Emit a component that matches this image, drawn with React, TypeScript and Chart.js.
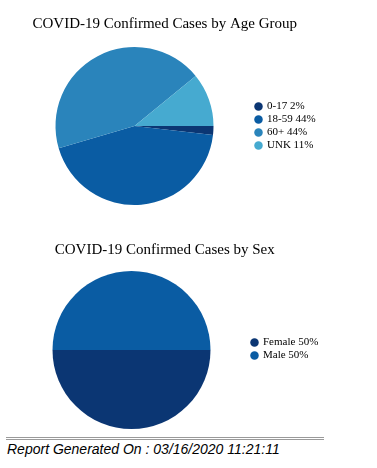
import React, { useEffect, useRef } from "react";
import { Chart, registerables } from "chart.js";

Chart.register(...registerables);

const ageLabels = ["0-17", "18-59", "60+", "UNK"];
const ageValues = [1, 24, 24, 6];
const ageColors = ["#0b3673", "#0a5ca3", "#2a84bb", "#46aad0"];

const sexLabels = ["Female", "Male"];
const sexValues = [1, 1];
const sexColors = ["#0b3673", "#0a5ca3"];

const ageTitle = "COVID-19 Confirmed Cases by Age Group";
const sexTitle = "COVID-19 Confirmed Cases by Sex";
const footerText = "Report Generated On : 03/16/2020 11:21:11";

type PieSpec = {
  labels: string[];
  values: number[];
  colors: string[];
  title: string;
  titlePadTop: number;
  titlePadBottom: number;
  padLeft: number;
  padRight: number;
  padBottom: number;
  legendMaxWidth: number;
  legendTopSpace: number;
};

const serif = "'Liberation Serif', 'Times New Roman', serif";

// The legend box is kept narrow for layout; widen its drawing clip so labels are not cut.
const legendClipFix = {
  id: "legendClipFix",
  afterLayout(chart: any) {
    const lg = chart.legend;
    if (lg) {
      lg.right = lg.left + 120;
      lg.width = 120;
    }
  },
};

function makeConfig(s: PieSpec): any {
  const total = s.values.reduce((a, b) => a + b, 0);
  return {
    type: "pie",
    data: {
      labels: s.labels,
      datasets: [
        {
          data: s.values,
          backgroundColor: s.colors,
          borderColor: "#ffffff",
          borderWidth: 0,
          hoverOffset: 0,
        },
      ],
    },
    plugins: [legendClipFix],
    options: {
      responsive: false,
      animation: false,
      rotation: 90,
      layout: { padding: { left: s.padLeft, right: s.padRight, top: 0, bottom: s.padBottom } },
      plugins: {
        tooltip: { enabled: false },
        title: {
          display: true,
          text: s.title,
          color: "#000000",
          font: { family: serif, size: 15, weight: "normal" },
          padding: { top: s.titlePadTop, bottom: s.titlePadBottom },
        },
        legend: {
          display: true,
          position: "right",
          maxWidth: s.legendMaxWidth,
          title: {
            display: true,
            text: " ",
            font: { family: serif, size: 10 },
            padding: { top: s.legendTopSpace, bottom: 0 },
          },
          labels: {
            usePointStyle: true,
            boxWidth: 6,
            boxHeight: 6,
            padding: 2,
            color: "#000000",
            font: { family: serif, size: 11 },
            generateLabels: () =>
              s.labels.map((l, i) => ({
                text: `${l} ${Math.round((s.values[i] / total) * 100)}%`,
                fillStyle: s.colors[i],
                strokeStyle: s.colors[i],
                fontColor: "#000000",
                lineWidth: 0,
                pointStyle: "circle",
                hidden: false,
                index: i,
              })),
          },
        },
      },
    },
  };
}

function PieCanvas(props: { spec: PieSpec; left: number; top: number; width: number; height: number }) {
  const ref = useRef<HTMLCanvasElement | null>(null);
  useEffect(() => {
    if (!ref.current) return;
    const chart = new Chart(ref.current, makeConfig(props.spec));
    return () => chart.destroy();
  }, []);
  return (
    <canvas
      ref={ref}
      width={props.width}
      height={props.height}
      style={{ position: "absolute", left: props.left, top: props.top, width: props.width, height: props.height, display: "block" }}
    />
  );
}

export default function App() {
  const ageSpec: PieSpec = {
    labels: ageLabels,
    values: ageValues,
    colors: ageColors,
    title: ageTitle,
    titlePadTop: 15.5,
    titlePadBottom: 13.5,
    padLeft: 15.5,
    padRight: 26,
    padBottom: 15,
    legendMaxWidth: 60.5,
    legendTopSpace: 35,
  };
  const sexSpec: PieSpec = {
    labels: sexLabels,
    values: sexValues,
    colors: sexColors,
    title: sexTitle,
    titlePadTop: 21,
    titlePadBottom: 12,
    padLeft: 13.5,
    padRight: 24,
    padBottom: 6,
    legendMaxWidth: 66.5,
    legendTopSpace: 37,
  };
  return (
    <div style={{ position: "absolute", left: 0, top: 0, width: 377, height: 468, background: "#ffffff", overflow: "hidden" }}>
      <PieCanvas spec={ageSpec} left={0} top={0} width={340} height={220} />
      <PieCanvas spec={sexSpec} left={0} top={220} width={340} height={215} />
      <div
        style={{
          position: "absolute",
          left: 6,
          top: 437,
          width: 318,
          height: 1,
          borderTop: "1px solid #9a9a9a",
          borderBottom: "1px solid #9a9a9a",
        }}
      />
      <div
        style={{
          position: "absolute",
          left: 7,
          top: 441,
          fontFamily: "'Liberation Sans', Arial, sans-serif",
          fontStyle: "italic",
          fontSize: 14,
          lineHeight: "16px",
          color: "#000000",
          whiteSpace: "nowrap",
        }}
      >
        {footerText}
      </div>
    </div>
  );
}
